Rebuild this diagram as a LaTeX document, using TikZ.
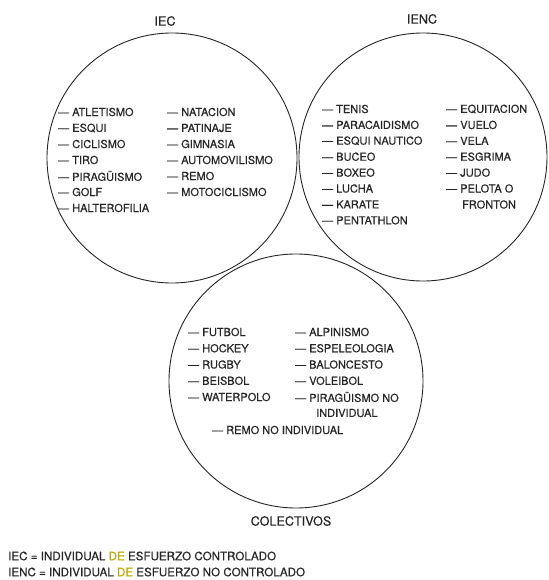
\documentclass[tikz,border=0pt]{standalone}
\usepackage{fontspec}
\setmainfont{TeX Gyre Heros}[FakeBold=0.5]
\usepackage{xcolor}
\usepackage{tikz}
\usetikzlibrary{positioning}
\definecolor{ink}{HTML}{262626}
\definecolor{deyellow}{HTML}{BBA800}

\begin{document}
\begin{tikzpicture}[x=1pt, y=-1pt,
    venn/.style={circle, draw=ink, line width=0.9pt, inner sep=0pt},
    item/.style={anchor=west, inner sep=0pt, text=ink, font=\fontsize{11}{12}\selectfont},
    title/.style={inner sep=0pt, text=ink, font=\fontsize{12.6}{14}\selectfont},
    legend/.style={anchor=west, inner sep=0pt, text=ink, font=\fontsize{11.6}{13}\selectfont}]
    \useasboundingbox (0,0) rectangle (548,580);

    % The three sets
    \node[venn, minimum size=250pt] (iec) at (172,158) {};
    \node[venn, minimum size=248pt] (ienc) at (423,157) {};
    \node[venn, minimum size=254pt] (col) at (296,381) {};

    % Set names
    \node[title] (iecname) at (165,21) {IEC};
    \node[title] (iencname) at (422,19) {IENC};
    \node[title] (colname) at (291,521) {COLECTIVOS};

    % IEC
    \foreach \t [count=\i] in {ATLETISMO, ESQUI, CICLISMO, TIRO, PIRAGÜISMO, GOLF, HALTEROFILIA}
        \node[item] (iecA\i) at (58,{112+16*(\i-1)}) {\textemdash\ \t};
    \foreach \t [count=\i] in {NATACION, PATINAJE, GIMNASIA, AUTOMOVILISMO, REMO, MOTOCICLISMO}
        \node[item] (iecB\i) at (167,{112+16*(\i-1)}) {\textemdash\ \t};

    % IENC
    \foreach \t [count=\i] in {TENIS, PARACAIDISMO, ESQUI NAUTICO, BUCEO, BOXEO, LUCHA, KARATE, PENTATHLON}
        \node[item] (iencA\i) at (322,{109+15.9*(\i-1)}) {\textemdash\ \t};
    \foreach \t [count=\i] in {EQUITACION, VUELO, VELA, ESGRIMA, JUDO, PELOTA O}
        \node[item] (iencB\i) at (446,{109+15.9*(\i-1)}) {\textemdash\ \t};
    \node[item] (fronton) at (462,204.5) {FRONTON};

    % Colectivos
    \foreach \t [count=\i] in {FUTBOL, HOCKEY, RUGBY, BEISBOL, WATERPOLO}
        \node[item] (colA\i) at (188,{332+16.25*(\i-1)}) {\textemdash\ \t};
    \foreach \t [count=\i] in {ALPINISMO, ESPELEOLOGIA, BALONCESTO, VOLEIBOL, PIRAGÜISMO NO}
        \node[item] (colB\i) at (295,{332+16.25*(\i-1)}) {\textemdash\ \t};
    \node[item] (indiv) at (316,413) {INDIVIDUAL};
    \node[item] (remo) at (212,430) {\textemdash\ REMO NO INDIVIDUAL};

    % Legend
    \node[legend] (leg1) at (8,556) {IEC = INDIVIDUAL \textcolor{deyellow}{DE} ESFUERZO CONTROLADO};
    \node[legend] (leg2) at (8,572) {IENC = INDIVIDUAL \textcolor{deyellow}{DE} ESFUERZO NO CONTROLADO};
\end{tikzpicture}
\end{document}
